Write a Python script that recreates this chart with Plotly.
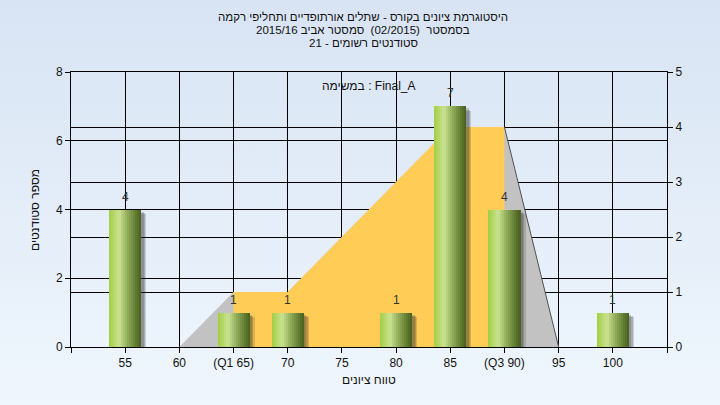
import plotly.graph_objects as go
import urllib.parse

# ---------------- data ----------------
grade_ticks = [50, 55, 60, 65, 70, 75, 80, 85, 90, 95, 100, 105]
tick_labels = ["", "55", "60", "(Q1 65)", "70", "75", "80", "85", "(Q3 90)", "95", "100", ""]

bar_grades = [55, 65, 70, 80, 85, 90, 100]
bar_counts = [4, 1, 1, 1, 7, 4, 1]

area_grades = [60, 65, 70, 75, 80, 85, 90, 95]
area_values = [0, 1, 1, 2, 3, 4, 4, 0]
q1, q3 = 65, 90

title_lines = [
    "היסטוגרמת ציונים בקורס - שתלים אורתופדיים ותחליפי רקמה",
    "בסמסטר  (02/2015)  סמסטר אביב 2015/16",
    "סטודנטים רשומים - 21",
]
inner_label = "במשימה : Final_A"
x_title = "טווח ציונים"
y_title = "מספר סטודנטים"

# ---------------- layout geometry ----------------
W, H = 720, 405
L, R, T, B = 71, 53, 72, 58
PW, PH = W - L - R, H - T - B
FONT = "Liberation Sans, Arial, sans-serif"
TXT = "#111111"

fig = go.Figure()

# ---- area (primary y = right axis 0..5) ----
fig.add_trace(go.Scatter(
    x=area_grades, y=area_values, mode="lines", fill="tozeroy",
    fillcolor="#C2C2C2", line=dict(width=0, color="rgba(0,0,0,0)"),
    hoverinfo="skip", showlegend=False, yaxis="y"))
yx = [q1] + [g for g in area_grades if q1 <= g <= q3] + [q3]
yy = [0] + [v for g, v in zip(area_grades, area_values) if q1 <= g <= q3] + [0]
fig.add_trace(go.Scatter(
    x=yx, y=yy, mode="lines", fill="toself", fillcolor="#FFCC55",
    line=dict(width=0, color="rgba(0,0,0,0)"),
    hoverinfo="skip", showlegend=False, yaxis="y"))
ex = [g for g in area_grades if g >= q3]
ey = [v for g, v in zip(area_grades, area_values) if g >= q3]
fig.add_trace(go.Scatter(
    x=ex, y=ey, mode="lines", line=dict(width=1, color="#505050"),
    hoverinfo="skip", showlegend=False, yaxis="y"))

# ---- bars (y2 = left axis 0..8) ----
BW = 2.95
for off, dy, alpha in [(0.48, -0.14, 0.18), (0.36, -0.10, 0.22), (0.24, -0.06, 0.22)]:
    fig.add_trace(go.Bar(
        x=bar_grades, y=bar_counts, base=[dy] * len(bar_counts),
        width=BW, offset=-BW / 2 + off,
        marker=dict(color="rgba(50,50,50,%.2f)" % alpha, line=dict(width=0)),
        hoverinfo="skip", showlegend=False, yaxis="y2"))

stops = [(0.0, (162, 206, 68)), (0.32, (203, 226, 146)), (0.55, (150, 178, 95)),
         (0.85, (95, 122, 48)), (1.0, (72, 96, 32))]


def grad(t):
    for (t0, c0), (t1, c1) in zip(stops[:-1], stops[1:]):
        if t0 <= t <= t1:
            f = (t - t0) / (t1 - t0) if t1 > t0 else 0
            return "rgb(%d,%d,%d)" % tuple(round(a + (b - a) * f) for a, b in zip(c0, c1))
    return "rgb(%d,%d,%d)" % stops[-1][1]


N = 16
sw = BW / N
for i in range(N):
    fig.add_trace(go.Bar(
        x=bar_grades, y=bar_counts, width=sw * 1.08, offset=-BW / 2 + i * sw,
        marker=dict(color=grad((i + 0.5) / N), line=dict(width=0)),
        hoverinfo="skip", showlegend=False, yaxis="y2"))

annotations = []
for g, c in zip(bar_grades, bar_counts):
    annotations.append(dict(x=g, y=c, xref="x", yref="y2", text=str(c),
                            showarrow=False, yanchor="bottom", yshift=4,
                            font=dict(family=FONT, size=12, color="#333333")))

for line, ypx in zip(title_lines, [17.5, 30, 42.5]):
    annotations.append(dict(x=(363 - L) / PW, y=(H - B - ypx) / PH, xref="paper", yref="paper",
                            text=line, showarrow=False, xanchor="center", yanchor="middle",
                            font=dict(family=FONT, size=11.5, color=TXT)))
annotations.append(dict(x=0.5, y=(H - B - 86) / PH, xref="paper", yref="paper",
                        text=inner_label, showarrow=False, xanchor="center", yanchor="middle",
                        font=dict(family=FONT, size=12, color=TXT)))
annotations.append(dict(x=0.5, y=(H - B - 380) / PH, xref="paper", yref="paper",
                        text=x_title, showarrow=False, xanchor="center", yanchor="middle",
                        font=dict(family=FONT, size=12, color=TXT)))
annotations.append(dict(x=(35 - L) / PW, y=(H - B - 210) / PH, xref="paper", yref="paper",
                        text=y_title, showarrow=False, textangle=-90,
                        xanchor="center", yanchor="middle",
                        font=dict(family=FONT, size=12, color=TXT)))

svg = ("<svg xmlns='http://www.w3.org/2000/svg' width='720' height='405' preserveAspectRatio='none'>"
       "<defs><linearGradient id='g' x1='0' y1='0' x2='0' y2='1'>"
       "<stop offset='0' stop-color='#d8e4f4'/><stop offset='1' stop-color='#eff6fd'/>"
       "</linearGradient></defs><rect width='720' height='405' fill='url(#g)'/></svg>")
bg_src = "data:image/svg+xml;charset=utf-8," + urllib.parse.quote(svg)

axis_common = dict(showline=True, linecolor="black", linewidth=1, ticks="outside",
                   ticklen=5, tickcolor="black", gridcolor="black", gridwidth=1,
                   zeroline=False, tickfont=dict(family=FONT, size=12, color=TXT))

fig.update_layout(
    width=W, height=H, margin=dict(l=L, r=R, t=T, b=B),
    paper_bgcolor="#e6eef9", plot_bgcolor="#B3B3B3",
    barmode="overlay", bargap=0, showlegend=False, hovermode=False,
    font=dict(family=FONT, size=12, color=TXT),
    xaxis=dict(range=[50, 105], tickmode="array", tickvals=grade_ticks, ticktext=tick_labels,
               showgrid=True, mirror=True, **axis_common),
    yaxis=dict(range=[0, 5], side="right", tickmode="linear", tick0=0, dtick=1,
               showgrid=True, **axis_common),
    yaxis2=dict(range=[0, 8], side="left", overlaying="y", tickmode="linear", tick0=0, dtick=2,
                showgrid=True, **axis_common),
    annotations=annotations,
    images=[dict(source=bg_src, xref="paper", yref="paper", x=-L / PW, y=1 + T / PH,
                 sizex=W / PW, sizey=H / PH, sizing="stretch", xanchor="left", yanchor="top",
                 layer="below")],
)

fig.write_html("out.html", config={"displayModeBar": False, "staticPlot": True},
               post_script="document.body.style.margin='0';document.body.style.overflow='hidden';")
